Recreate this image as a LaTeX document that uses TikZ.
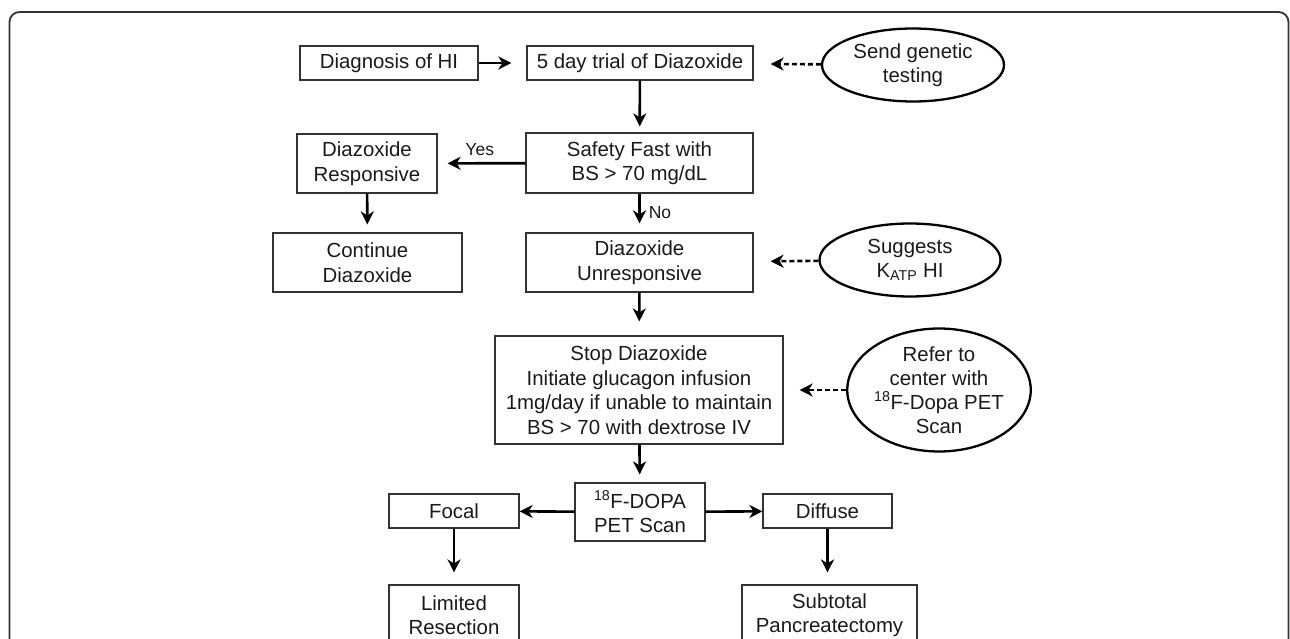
\documentclass[tikz,border=0pt]{standalone}
\usepackage{fontspec}
\setmainfont{Liberation Sans}
\usetikzlibrary{arrows.meta,shapes.geometric}
\definecolor{boxline}{HTML}{333333}
\definecolor{txt}{HTML}{1A1A1A}
\begin{document}
\begin{tikzpicture}[x=1pt,y=-1pt,
  box/.style={draw=boxline, line width=1.2pt, rectangle, inner sep=0pt, align=center,
    font=\fontsize{20.4}{24.5}\selectfont, text=txt},
  oval/.style={draw=black, line width=2.3pt, ellipse, inner sep=0pt, align=center,
    font=\fontsize{20.4}{24}\selectfont, text=txt},
  arr/.style={line width=2.6pt, -{Stealth[length=13pt,width=13pt,inset=4pt]}},
  darr/.style={arr, dash pattern=on 5pt off 3pt},
  lbl/.style={font=\fontsize{17.5}{20}\selectfont, text=txt, inner sep=0pt}]
\useasboundingbox (0,0) rectangle (1290,639);
\clip (0,0) rectangle (1290,639);
\draw[draw=boxline, line width=1.8pt, rounded corners=10pt] (9.5,12) rectangle (1288.5,720);
% nodes
\node[box, minimum width=178pt, minimum height=34pt] (diag) at (389,63) {Diagnosis of HI};
\node[box, minimum width=226pt, minimum height=34pt] (trial) at (640,63) {5 day trial of Diazoxide};
\node[oval, minimum width=182pt, minimum height=73pt] (send) at (913,65) {Send genetic\\testing};
\node[box, minimum width=227pt, minimum height=60pt] (safety) at (639.5,163) {Safety Fast with\\BS > 70 mg/dL};
\node[box, minimum width=140pt, minimum height=59pt] (resp) at (367,163.5) {Diazoxide\\Responsive};
\node[box, minimum width=189pt, minimum height=59pt] (cont) at (367.5,262.5) {Continue\\Diazoxide};
\node[box, minimum width=227pt, minimum height=59pt] (unresp) at (639.5,262.5) {Diazoxide\\Unresponsive};
\node[oval, minimum width=181pt, minimum height=73pt] (katp) at (910,260) {Suggests\\K\textsubscript{ATP} HI};
\node[box, minimum width=288pt, minimum height=108pt] (stop) at (639,390) {Stop Diazoxide\\Initiate glucagon infusion\\1mg/day if unable to maintain\\BS > 70 with dextrose IV};
\node[oval, minimum width=182pt, minimum height=113pt] (refer) at (939,390) {Refer to\\center with\\\textsuperscript{18}F-Dopa PET\\Scan};
\node[box, minimum width=130pt, minimum height=58pt] (pet) at (640,512) {\textsuperscript{18}F-DOPA\\PET Scan};
\node[box, minimum width=130pt, minimum height=34pt] (focal) at (454,511) {Focal};
\node[box, minimum width=129pt, minimum height=34pt] (diffuse) at (827.5,511) {Diffuse};
\node[box, minimum width=130pt, minimum height=60pt] (limited) at (454,615) {Limited\\Resection};
\node[box, minimum width=175pt, minimum height=60pt] (subtotal) at (829.5,615) {Subtotal\\Pancreatectomy};
% connectors
\draw[arr, shorten >=15pt] (diag) -- (trial);
\draw[darr, shorten >=17pt] (send) -- (trial);
\draw[arr, shorten >=6pt] (trial) -- (safety);
\draw[arr, shorten >=10pt] (safety) -- node[lbl, above=6pt, pos=0.52] {Yes} (resp);
\draw[arr, shorten >=8pt] (resp) -- (cont);
\draw[arr, shorten >=9pt] (safety) -- node[lbl, right=8pt] {No} (unresp);
\draw[darr, shorten >=17pt] (katp) -- (unresp);
\draw[arr, shorten >=14pt] (unresp) -- (stop);
\draw[darr, shorten >=16pt] (refer) -- (stop);
\draw[arr, shorten >=8pt] (stop) -- (pet);
\draw[arr] (pet) -- (focal);
\draw[arr] (pet) -- (diffuse);
\draw[arr, shorten >=12pt] (focal) -- (focal.south |- limited.north);
\draw[arr, shorten >=12pt] (diffuse) -- (diffuse.south |- subtotal.north);
\end{tikzpicture}
\end{document}
